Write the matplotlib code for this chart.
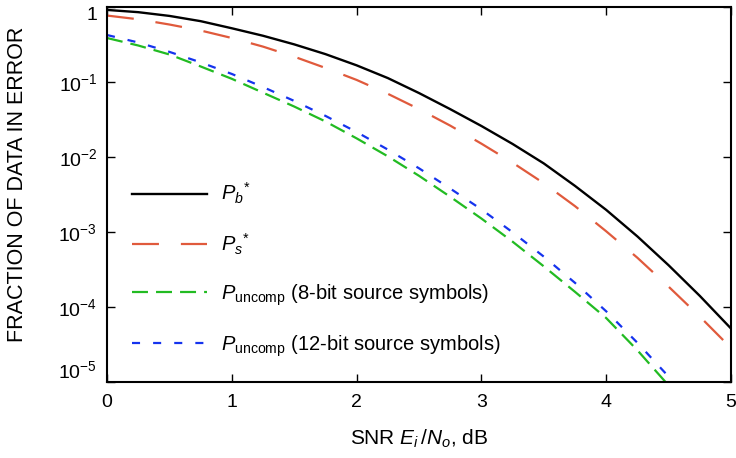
import numpy as np
import matplotlib
matplotlib.use('Agg')
import matplotlib.pyplot as plt

plt.rcParams['font.family'] = ['Liberation Sans', 'DejaVu Sans']
plt.rcParams['mathtext.fontset'] = 'custom'
plt.rcParams['mathtext.rm'] = 'Liberation Sans'
plt.rcParams['mathtext.it'] = 'Liberation Sans:italic'
plt.rcParams['mathtext.bf'] = 'Liberation Sans:bold'
plt.rcParams['lines.scale_dashes'] = False

# SNR in dB
snr = [0, 0.25, 0.5, 0.75, 1.0, 1.25, 1.5, 1.75, 2.0, 2.25, 2.5,
       2.75, 3.0, 3.25, 3.5, 3.75, 4.0, 4.25, 4.5, 4.75, 5.0]

pb = [0.9226, 0.861, 0.7674, 0.6531, 0.5248, 0.4169, 0.3199, 0.2371, 0.1679,
      0.1135, 0.0716, 0.04365, 0.026, 0.01496, 0.00822, 0.00412, 0.00197,
      8.71e-4, 3.59e-4, 1.40e-4, 5.13e-5]
ps = [0.776, 0.692, 0.589, 0.490, 0.389, 0.2985, 0.219, 0.155, 0.1072,
      0.070, 0.0437, 0.0263, 0.0151, 0.00841, 0.00447, 0.00221, 0.00102,
      4.52e-4, 1.86e-4, 7.41e-5, 2.82e-5]
# uncompressed curves only go down to the bottom of the axis
snr_u = snr[:20]
p8 = [0.389, 0.309, 0.2344, 0.1622, 0.1109, 0.0724, 0.0473, 0.0299, 0.01778,
      0.01023, 0.00562, 0.00295, 0.00151, 7.41e-4, 3.47e-4, 1.585e-4,
      7.08e-5, 2.63e-5, 8.91e-6, 2.8e-6]
p12 = [0.4266, 0.339, 0.254, 0.184, 0.1288, 0.0861, 0.0562, 0.0355, 0.0216,
       0.01259, 0.00708, 0.0038, 0.002, 9.89e-4, 4.68e-4, 2.09e-4, 8.71e-5,
       3.31e-5, 1.17e-5, 3.98e-6]

labels = [r'$P_b{}^{*}$', r'$P_s{}^{*}$',
          r'$P_{\mathrm{uncomp}}$ (8-bit source symbols)',
          r'$P_{\mathrm{uncomp}}$ (12-bit source symbols)']

FS = 14

fig = plt.figure(figsize=(7.36, 4.58), dpi=100)
ax = fig.add_axes([107/736, 1-381.7/458, 624/736, 374.4/458])

ax.plot(snr, pb, color='black', lw=1.7, label=labels[0])
ax.plot(snr, ps, color='#e05a3c', lw=1.6, dashes=(19.4, 15.8), label=labels[1])
ax.plot(snr_u, p8, color='#22bb22', lw=1.6, dashes=(11.5, 5.8), label=labels[2])
ax.plot(snr_u, p12, color='#1533ee', lw=1.6, dashes=(5.8, 9.4), label=labels[3])

ax.set_yscale('log')
ax.set_xlim(0, 5)
ax.set_ylim(1e-5, 1)
ax.set_xticks([0, 1, 2, 3, 4, 5])
ax.set_yticks([1, 1e-1, 1e-2, 1e-3, 1e-4, 1e-5])
ax.set_yticklabels(['1', r'$10^{-1}$', r'$10^{-2}$', r'$10^{-3}$',
                    r'$10^{-4}$', r'$10^{-5}$'])
ax.minorticks_off()
ax.tick_params(which='both', direction='in', length=6, width=1,
               top=True, right=True, labelsize=FS)
ax.tick_params(axis='x', pad=9)
ax.tick_params(axis='y', pad=7)
tl = ax.get_yticklabels()
tl[0].set_va('top')
tl[-1].set_va('bottom')
for s in ax.spines.values():
    s.set_linewidth(1.5)

ax.set_xlabel(r'SNR $E_i\,/N_o$, dB', fontsize=15)
ax.set_ylabel('FRACTION OF DATA IN ERROR', fontsize=15.5)
ax.xaxis.set_label_coords(0.5, -0.122)
ax.yaxis.set_label_coords(-0.127, 0.528)

ax.legend(loc='upper left', bbox_to_anchor=(0.04, 0.536), frameon=False,
          fontsize=14.5, handlelength=3.75, handletextpad=0.68,
          labelspacing=1.26, borderpad=0, borderaxespad=0)

fig.savefig('out.png', dpi=100)
